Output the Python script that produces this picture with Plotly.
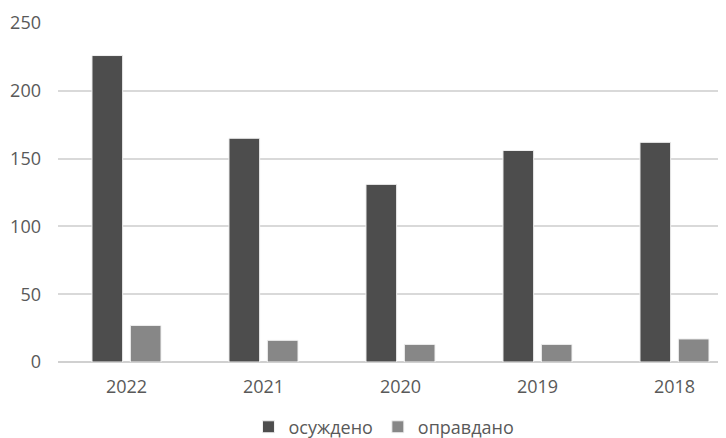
import plotly.graph_objects as go

years = ["2022", "2021", "2020", "2019", "2018"]
convicted = [226, 165, 131, 156, 162]
acquitted = [27, 16, 13, 13, 17]
y_ticks = [0, 50, 100, 150, 200, 250]

font = dict(family="Open Sans, Liberation Sans, sans-serif", size=18, color="#595959")

fig = go.Figure()
fig.add_trace(go.Bar(x=years, y=convicted, name="осуждено",
                     marker=dict(color="#4d4d4d", line=dict(color="#f2f2f2", width=1))))
fig.add_trace(go.Bar(x=years, y=acquitted, name="оправдано",
                     marker=dict(color="#878787", line=dict(color="#f2f2f2", width=1))))

# page body has an 8px default margin; compensate so the chart fills the window
fig.update_layout(
    width=718, height=446,
    margin=dict(l=50, r=0, t=15, b=92),
    paper_bgcolor="white", plot_bgcolor="white",
    barmode="group", bargap=0.44, bargroupgap=0.2,
    font=font,
    showlegend=True,
    legend=dict(orientation="h", x=0.488, xanchor="center", y=-0.192, yanchor="middle",
                font=font, itemwidth=30, traceorder="normal"),
    xaxis=dict(type="category", range=[-0.5, 4.376], showgrid=False, showline=False,
               ticks="", tickfont=font, ticklabelstandoff=12, automargin=False),
    yaxis=dict(range=[0, 250], tickvals=y_ticks, showgrid=True, gridcolor="#d9d9d9",
               gridwidth=1.5, zeroline=True, zerolinecolor="#d0d0d0", zerolinewidth=1.5,
               showline=False, ticks="", tickfont=font, ticklabelstandoff=16,
               automargin=False),
)

fig.write_html("out.html")
